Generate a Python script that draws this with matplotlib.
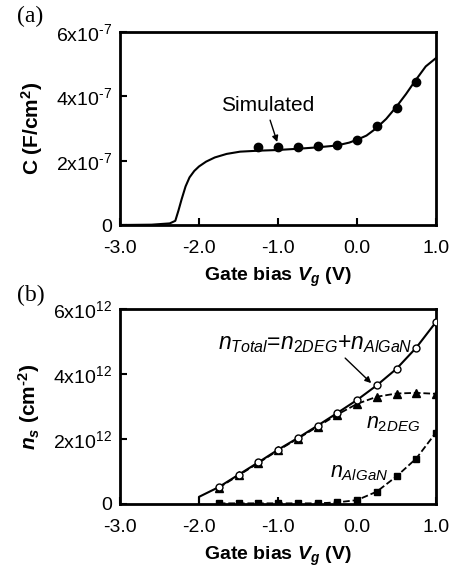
import matplotlib
matplotlib.use("Agg")
import matplotlib.pyplot as plt

plt.rcParams['font.family'] = ['Liberation Sans', 'DejaVu Sans']
plt.rcParams['mathtext.fontset'] = 'custom'
plt.rcParams['mathtext.rm'] = 'Liberation Sans'
plt.rcParams['mathtext.sf'] = 'Liberation Sans'
plt.rcParams['mathtext.it'] = 'Liberation Sans:italic'
plt.rcParams['mathtext.bf'] = 'Liberation Sans:bold'
plt.rcParams['mathtext.bfit'] = 'Liberation Sans:bold:italic'

# ---------- Panel (a) data ----------
cv_curve_v = [-3.0, -2.6, -2.37, -2.30, -2.26, -2.22, -2.17, -2.12, -2.06, -2.0, -1.91,
              -1.80, -1.65, -1.48, -1.25, -1.02, -0.75, -0.52, -0.26, -0.1, 0.0,
              0.12, 0.24, 0.37, 0.5, 0.62, 0.73, 0.87, 1.0]
cv_curve_c = [0.0, 0.01, 0.05, 0.13, 0.45, 0.80, 1.20, 1.48, 1.68, 1.82, 1.97,
              2.10, 2.21, 2.28, 2.31, 2.33, 2.37, 2.41, 2.47, 2.56, 2.65,
              2.78, 3.00, 3.30, 3.68, 4.07, 4.46, 4.93, 5.19]  # x1e-7
cv_sim_v = [-1.25, -1.0, -0.75, -0.5, -0.25, 0.0, 0.25, 0.5, 0.75]
cv_sim_c = [2.44, 2.44, 2.44, 2.45, 2.49, 2.65, 3.08, 3.65, 4.46]  # x1e-7

# ---------- Panel (b) data ----------
vg_pts = [-1.75, -1.5, -1.25, -1.0, -0.75, -0.5, -0.25, 0.0, 0.25, 0.5, 0.75, 1.0]
n_total = [0.52, 0.90, 1.28, 1.67, 2.03, 2.41, 2.80, 3.20, 3.65, 4.16, 4.81, 5.60]  # x1e12
n_2deg = [0.50, 0.88, 1.26, 1.65, 2.01, 2.38, 2.75, 3.08, 3.30, 3.40, 3.42, 3.39]
n_algan = [0.02, 0.02, 0.02, 0.02, 0.02, 0.02, 0.05, 0.12, 0.38, 0.85, 1.40, 2.20]
total_start_v = [-2.0, -2.0]
total_start_n = [0.0, 0.22]

HY = '\u2010'
xticks = [-3.0, -2.0, -1.0, 0.0, 1.0]
xticklabels = ['-3.0', '-2.0', '-1.0', '0.0', '1.0']
yticks = [0, 2, 4, 6]
ytl_a = ['0', '2x10$^{\\mathrm{' + HY + '7}}$', '4x10$^{\\mathrm{' + HY + '7}}$',
         '6x10$^{\\mathrm{' + HY + '7}}$']
ytl_b = ['0', r'2x10$^{\mathrm{12}}$', r'4x10$^{\mathrm{12}}$', r'6x10$^{\mathrm{12}}$']

W, H = 451, 568
fig = plt.figure(figsize=(W / 100, H / 100), dpi=100)

def px_axes(l, t, r, b):
    return fig.add_axes([l / W, 1 - b / H, (r - l) / W, (b - t) / H])

axa = px_axes(120, 32, 436, 225)
axb = px_axes(120, 309, 436, 504)

fs = 14
for ax, ytl in ((axa, ytl_a), (axb, ytl_b)):
    ax.set_xlim(-3.0, 1.0)
    ax.set_ylim(0, 6)
    ax.set_xticks(xticks)
    ax.set_xticklabels(xticklabels, fontsize=fs)
    ax.set_yticks(yticks)
    ax.set_yticklabels(ytl, fontsize=fs)
    ax.tick_params(direction='in', length=5, width=1.5)
    ax.tick_params(axis='x', pad=11)
    ax.tick_params(axis='y', pad=6)
    for s in ax.spines.values():
        s.set_linewidth(2)
    ax.set_xlabel(r'Gate bias $\mathbfit{V_g}$ (V)', fontsize=fs, fontweight='bold', labelpad=6)

# Panel (a)
axa.plot(cv_curve_v, cv_curve_c, color='black', lw=1.5)
axa.plot(cv_sim_v, cv_sim_c, 'o', color='black', ms=6)
axa.set_ylabel(r'C (F/cm$^\mathbf{2}$)', fontsize=15, fontweight='bold', labelpad=8)
axa.text(-1.13, 3.70, 'Simulated', fontsize=15, ha='center', va='center')
axa.annotate('', xy=(-1.01, 2.58), xytext=(-1.10, 3.26),
             arrowprops=dict(arrowstyle='-|>', color='black', lw=1, mutation_scale=9,
                             shrinkA=0, shrinkB=0))
fig.text(17 / W, 1 - 16 / H, '(a)', fontsize=17, family='Liberation Serif', va='center')

# Panel (b)
axb.plot(vg_pts, n_2deg, '--', color='black', lw=1.3, marker='^', ms=6, zorder=3)
axb.plot(vg_pts, n_algan, '--', color='black', lw=1.3, marker='s', ms=5, zorder=3)
axb.plot(total_start_v + vg_pts, total_start_n + n_total, '-', color='black', lw=1.5, zorder=4)
axb.plot(vg_pts, n_total, 'o', mfc='white', mec='black', mew=1, ms=5, zorder=5)
axb.set_ylabel(r'$\mathbfit{n_s}$ (cm$^\mathbf{' + HY + '2}$)', fontsize=15, fontweight='bold', labelpad=8)
axb.text(-0.53, 4.95, r'$n_{Total}$=$n_{2DEG}$+$n_{AlGaN}$', fontsize=16.5, ha='center', va='center')
axb.annotate('', xy=(0.18, 3.72), xytext=(-0.15, 4.49),
             arrowprops=dict(arrowstyle='-|>', color='black', lw=1, mutation_scale=9,
                             shrinkA=0, shrinkB=0))
axb.text(0.46, 2.49, r'$n_{2DEG}$', fontsize=15.5, ha='center', va='center')
axb.text(0.03, 0.98, r'$n_{AlGaN}$', fontsize=15.5, ha='center', va='center')
fig.text(17 / W, 1 - 295 / H, '(b)', fontsize=17, family='Liberation Serif', va='center')

fig.savefig('out.png', dpi=100)
